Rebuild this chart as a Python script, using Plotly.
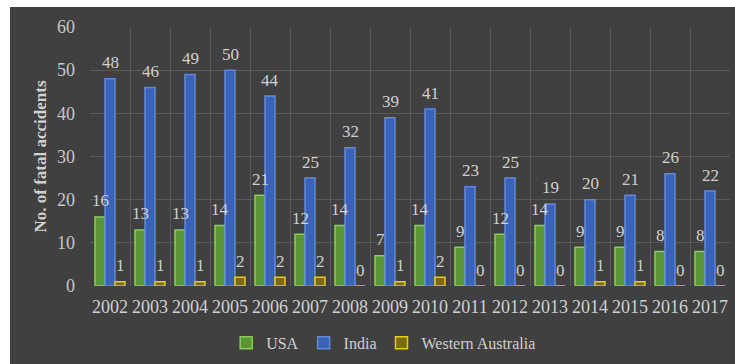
import plotly.graph_objects as go

years = [str(y) for y in range(2002, 2018)]
usa = [16, 13, 13, 14, 21, 12, 14, 7, 14, 9, 12, 14, 9, 9, 8, 8]
india = [48, 46, 49, 50, 44, 25, 32, 39, 41, 23, 25, 19, 20, 21, 26, 22]
wa = [1, 1, 1, 2, 2, 2, 0, 1, 2, 0, 0, 0, 1, 1, 0, 0]
series_names = ["USA", "India", "Western Australia"]

W, H = 735, 364
ML, MR, MT, MB = 90, 5, 27, 78
BG = "#404040"
GRID = "#5a5a5a"
FONT = "Liberation Serif, DejaVu Serif, serif"
TXT = "#d0d0d0"
BARGAP = 0.25

fills = ["#5a9636", "#3a62b8", "#7a6c10"]
lines = ["#8ccc5c", "#5f8ae0", "#e8cc10"]

fig = go.Figure()
for name, vals, fc, lc in zip(series_names, [usa, india, wa], fills, lines):
    fig.add_trace(go.Bar(
        x=years, y=vals, name=name,
        marker=dict(color=fc, line=dict(color=lc, width=1.5)),
        hoverinfo="x+y+name",
    ))

# data labels above bars (category index positions on the category axis)
plot_w = W - ML - MR
cat_px = plot_w / len(years)
bar_w = cat_px * (1 - BARGAP) / 3
for k, vals in enumerate([usa, india, wa]):
    for i, v in enumerate(vals):
        fig.add_annotation(
            x=i, y=v, xref="x", yref="y", text=str(v), showarrow=False,
            xshift=(k - 1) * bar_w, yshift=16,
            font=dict(family=FONT, size=17, color=TXT),
        )

plot_h = H - MT - MB
fig.add_shape(type="rect", xref="paper", yref="paper",
              x0=-ML / plot_w, x1=(10 - ML) / plot_w,
              y0=-MB / plot_h - 0.1, y1=(plot_h + MT) / plot_h + 0.1,
              fillcolor="white", line=dict(width=0), layer="below")
fig.add_shape(type="rect", xref="paper", yref="paper",
              x0=-ML / plot_w, x1=1 + MR / plot_w + 0.1,
              y0=(plot_h + MT - 7) / plot_h, y1=(plot_h + MT) / plot_h + 0.1,
              fillcolor="white", line=dict(width=0), layer="below")

fig.update_layout(
    width=W, height=H,
    margin=dict(l=ML, r=MR, t=MT, b=MB),
    paper_bgcolor=BG, plot_bgcolor=BG,
    barmode="group", bargap=BARGAP, bargroupgap=0,
    font=dict(family=FONT, color=TXT),
    showlegend=True,
    legend=dict(orientation="h", xref="container", yref="container",
                x=0.522, xanchor="center", y=0.058, yanchor="middle",
                font=dict(family=FONT, size=16, color=TXT),
                itemwidth=30, bgcolor="rgba(0,0,0,0)"),
    xaxis=dict(type="category", categoryorder="array", categoryarray=years,
               range=[-0.5, len(years) - 0.5],
               showgrid=True, gridcolor=GRID, gridwidth=1,
               tickson="boundaries", ticks="", showline=False, zeroline=False,
               tickangle=0,
               tickfont=dict(family=FONT, size=18, color=TXT),
               ticklabelstandoff=8),
    yaxis=dict(range=[0, 60], dtick=10, showgrid=True, gridcolor=GRID,
               gridwidth=1, zeroline=False, showline=False,
               tickfont=dict(family=FONT, size=18, color="#c8c8c8"),
               ticklabelstandoff=14,
               title=dict(text="<b>No. of fatal accidents</b>", standoff=6,
                          font=dict(family=FONT, size=17, color=TXT))),
)

fig.write_html("out.html")
